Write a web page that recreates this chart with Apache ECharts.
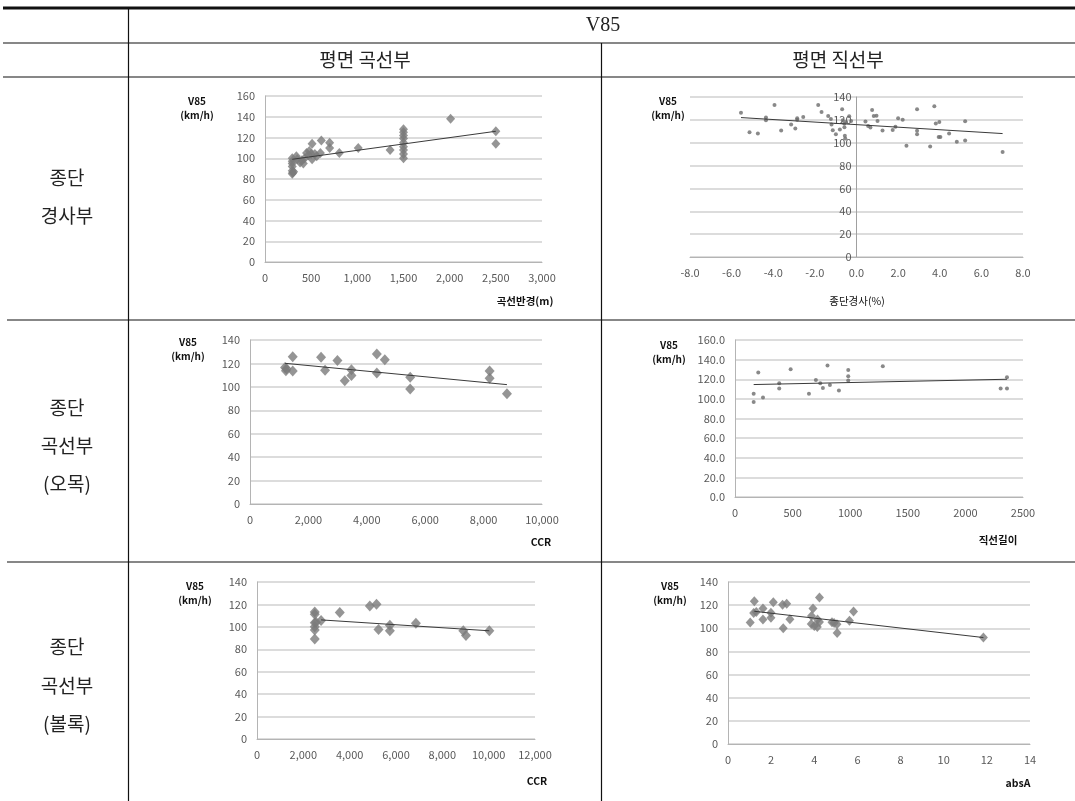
<!DOCTYPE html>
<html>
<head>
<meta charset="utf-8">
<script src="https://cdn.jsdelivr.net/npm/echarts@6/dist/echarts.min.js"></script>
<style>
html, body { margin: 0; padding: 0; background: #ffffff; }
#chart { width: 1075px; height: 801px; }
</style>
</head>
<body>
<div id="chart"></div>
<script>
// ---------- data ----------
// Horizontal curve sections on a grade: curve radius (m) vs V85
const radius    = [295, 295, 295, 295, 295, 295, 300, 310, 340, 350, 380, 400, 415, 430, 450, 470, 480, 500, 510, 510, 540, 560, 600, 610, 700, 700, 805, 1010, 1355, 1500, 1500, 1500, 1500, 1500, 1500, 1500, 1500, 1500, 2010, 2500, 2500];
const radiusV85 = [100, 97, 95, 92, 88, 85, 86, 87, 102, 99, 96, 98, 95, 100, 105, 103, 107, 104, 114, 99, 104, 102, 105, 117, 115, 110, 105, 110, 108, 128, 125, 122, 119, 115, 111, 108, 104, 100, 138, 126, 114];
const radiusTrendX = [295, 2500];
const radiusTrendY = [99, 126];

// Tangent sections on a grade: longitudinal grade (%) vs V85
const grade    = [-5.55, -5.14, -4.74, -4.35, -4.35, -3.94, -3.62, -3.14, -2.94, -2.85, -2.85, -2.56, -1.84, -1.68, -1.36, -1.23, -1.2, -1.14, -0.99, -0.8, -0.69, -0.66, -0.59, -0.58, -0.56, -0.54, -0.5, -0.35, -0.26, 0.43, 0.56, 0.67, 0.75, 0.83, 0.96, 1.01, 1.25, 1.74, 1.87, 2.0, 2.22, 2.4, 2.91, 2.91, 2.91, 3.74, 3.81, 3.54, 3.98, 3.95, 4.03, 4.45, 4.82, 5.22, 5.22, 7.02];
const gradeV85 = [126.3, 109.2, 108, 122, 119.7, 133, 110.7, 115.9, 112.4, 121.4, 120.2, 122.6, 133, 126.9, 123.4, 120.8, 115.9, 111, 107.5, 111.5, 129.2, 119.7, 116.8, 113.6, 106, 103.7, 118.2, 123.1, 119.1, 118.5, 114.7, 113.3, 128.7, 123.4, 123.7, 119.1, 110.7, 111.2, 113.9, 121.4, 120.2, 97.3, 129.2, 110.4, 107.5, 131.9, 116.8, 96.7, 118.2, 104.9, 104.9, 108, 100.8, 102, 118.8, 91.8];
const gradeTrendX = [-5.55, 7.02];
const gradeTrendY = [122, 108];

// Horizontal curve on a sag vertical curve: CCR vs V85
const sagCCR = [1200, 1230, 1250, 1463, 1463, 2434, 2571, 2994, 3246, 3474, 3474, 4343, 4343, 4617, 5486, 5486, 8206, 8206, 8800];
const sagV85 = [116.5, 113.8, 115.5, 125.8, 113.5, 125.2, 114.1, 122.4, 105.3, 114.7, 109.6, 128.1, 111.8, 123.2, 108.1, 98.2, 113.5, 107.3, 94.2];
const sagTrendX = [1200, 8800];
const sagTrendY = [120.1, 101.9];

// Tangent on a sag vertical curve: tangent length vs V85
const tangentLen = [162, 162, 202, 243, 384, 384, 483, 642, 702, 740, 763, 803, 824, 902, 983, 983, 983, 1283, 2306, 2361, 2361];
const tangentV85 = [105.1, 96.9, 126.8, 101.4, 115.9, 110.5, 130.2, 105.1, 119.3, 115.9, 111.2, 133.9, 114.2, 108.5, 129.5, 123.1, 118.6, 133.2, 110.5, 122, 110.5];
const tangentTrendX = [162, 2361];
const tangentTrendY = [114.6, 120];

// Horizontal curve on a crest vertical curve: CCR vs V85
const crestCCR = [2493, 2493, 2493, 2493, 2493, 2493, 2550, 2766, 3573, 4870, 5159, 5245, 5735, 5735, 6859, 8905, 9020, 10029];
const crestV85 = [113.3, 111.3, 103.6, 100, 97.1, 89.1, 104, 105.7, 112.8, 118.7, 120.2, 97.7, 101.5, 96.5, 103.3, 96.5, 92.3, 96.5];
const crestTrendX = [2766, 10029];
const crestTrendY = [106.2, 96.5];

// Tangent on a crest vertical curve: absA vs V85
const absA    = [1.03, 1.22, 1.19, 1.31, 1.62, 1.62, 1.99, 1.99, 2.1, 2.53, 2.56, 2.72, 2.87, 3.94, 3.87, 3.86, 4.0, 4.15, 4.14, 4.24, 4.24, 4.82, 4.92, 5.05, 5.06, 5.63, 5.82, 11.84];
const absAV85 = [104.9, 123.3, 113.3, 114.1, 117, 107.5, 113.5, 109.2, 122.4, 120.4, 100, 121.3, 107.8, 117, 110.7, 103.8, 102, 107.5, 101.2, 126.5, 105.5, 105.2, 104.6, 103.5, 96, 106.6, 114.4, 92];
const absATrendX = [1.22, 11.84];
const absATrendY = [114.7, 92];

// Table texts
const headerLabel = 'V85';
const columnLabels = ['평면 곡선부', '평면 직선부'];
const rowLabels = [['종단', '경사부'], ['종단', '곡선부', '(오목)'], ['종단', '곡선부', '(볼록)']];
const yTitleLines = ['V85', '(km/h)'];
const xTitles = ['곡선반경(m)', '종단경사(%)', 'CCR', '직선길이', 'CCR', 'absA'];

// ---------- helpers ----------
const zip = (xs, ys) => xs.map((x, i) => [x, ys[i]]);
const comma = v => Math.round(v).toLocaleString('en-US');
const oneDec = v => v.toFixed(1);
const plain = v => String(v);

const AX_FONT = '"Noto Sans CJK KR", "Noto Sans", sans-serif';
const KR_FONT = '"Noto Sans CJK KR", sans-serif';
const GRID_COLOR = '#d0d0d0';
const AXIS_COLOR = '#b4b4b4';
const MARK_COLOR = '#7a7a7a';

// panel layout: plotting area, axis ranges, marker style, title positions
const panels = [
  { grid: {left: 265, top: 96, width: 277, height: 166}, xr: [0, 3000, 500], yr: [0, 160, 20], xf: comma, yf: plain,
    pts: zip(radius, radiusV85), trend: zip(radiusTrendX, radiusTrendY), sym: 'diamond', size: [9, 10],
    yt: [197, 94], xt: [525, 301], xtBold: true },
  { grid: {left: 690, top: 97, width: 333, height: 160}, xr: [-8, 8, 2], yr: [0, 140, 20], xf: oneDec, yf: plain,
    pts: zip(grade, gradeV85), trend: zip(gradeTrendX, gradeTrendY), sym: 'circle', size: 4, small: true, centerAxis: true,
    yt: [668, 94], xt: [857, 301], xtBold: false },
  { grid: {left: 250, top: 340, width: 292, height: 164}, xr: [0, 10000, 2000], yr: [0, 140, 20], xf: comma, yf: plain,
    pts: zip(sagCCR, sagV85), trend: zip(sagTrendX, sagTrendY), sym: 'diamond', size: [10, 11],
    yt: [188, 335], xt: [541, 542], xtBold: true },
  { grid: {left: 735, top: 340, width: 288, height: 157}, xr: [0, 2500, 500], yr: [0, 160, 20], xf: plain, yf: oneDec,
    pts: zip(tangentLen, tangentV85), trend: zip(tangentTrendX, tangentTrendY), sym: 'circle', size: 4, small: true,
    yt: [669, 338], xt: [998, 540], xtBold: true },
  { grid: {left: 257, top: 582, width: 278, height: 157}, xr: [0, 12000, 2000], yr: [0, 140, 20], xf: comma, yf: plain,
    pts: zip(crestCCR, crestV85), trend: zip(crestTrendX, crestTrendY), sym: 'diamond', size: [10, 11],
    yt: [195, 579], xt: [537, 781], xtBold: true },
  { grid: {left: 728, top: 582, width: 302, height: 162}, xr: [0, 14, 2], yr: [0, 140, 20], xf: plain, yf: plain,
    pts: zip(absA, absAV85), trend: zip(absATrendX, absATrendY), sym: 'diamond', size: [9, 10],
    yt: [670, 579], xt: [1018, 783], xtBold: true }
];

const grid = [], xAxis = [], yAxis = [], series = [], graphic = [];

panels.forEach((p, i) => {
  grid.push(Object.assign({containLabel: false}, p.grid));
  xAxis.push({
    type: 'value', gridIndex: i, min: p.xr[0], max: p.xr[1], interval: p.xr[2],
    axisLine: {show: true, onZero: true, lineStyle: {color: AXIS_COLOR, width: 1}},
    axisTick: {show: false},
    splitLine: {show: false},
    axisLabel: {color: '#595959', fontSize: 11, fontFamily: AX_FONT, margin: 10, formatter: p.xf}
  });
  // a centred vertical axis sits where x = 0, shifted right from the grid's left edge
  const shift = p.centerAxis ? -p.grid.width * (0 - p.xr[0]) / (p.xr[1] - p.xr[0]) : 0;
  yAxis.push({
    type: 'value', gridIndex: i, min: p.yr[0], max: p.yr[1], interval: p.yr[2],
    offset: shift,
    axisLine: {show: true, onZero: false, lineStyle: {color: p.centerAxis ? '#a0a0a0' : AXIS_COLOR, width: 1}},
    axisTick: {show: false},
    splitLine: {show: true, lineStyle: {color: GRID_COLOR, width: 1.5}},
    axisLabel: {color: '#595959', fontSize: 11, fontFamily: AX_FONT, margin: p.centerAxis ? 5 : 10, formatter: p.yf}
  });
  series.push({
    type: 'scatter', xAxisIndex: i, yAxisIndex: i, data: p.pts,
    symbol: p.sym, symbolSize: p.size,
    itemStyle: {color: p.small ? '#6b6b6b' : MARK_COLOR},
    silent: true, z: 3
  });
  series.push({
    type: 'line', xAxisIndex: i, yAxisIndex: i, data: p.trend,
    symbol: 'none', lineStyle: {color: '#3a3a3a', width: 1}, silent: true, z: 4
  });
  graphic.push({
    type: 'text', x: p.yt[0], y: p.yt[1],
    style: {text: yTitleLines.join('\n'), align: 'center', verticalAlign: 'top',
      font: 'bold 10px ' + AX_FONT, lineHeight: 14, fill: '#111'}
  });
  graphic.push({
    type: 'text', x: p.xt[0], y: p.xt[1],
    style: {text: xTitles[i], align: 'center', verticalAlign: 'middle',
      font: (p.xtBold ? 'bold ' : '') + '10.5px ' + AX_FONT, fill: '#111'}
  });
});

// table rules
const line = (x1, y1, x2, y2, w) => ({
  type: 'line', shape: {x1, y1, x2, y2}, style: {stroke: '#111', lineWidth: w}, silent: true, z: 10
});
graphic.push(line(3, 8, 1075, 8, 3));
graphic.push(line(3, 43, 1075, 43, 1.2));
graphic.push(line(3, 77, 1075, 77, 1.2));
graphic.push(line(7, 320, 1075, 320, 1.2));
graphic.push(line(7, 562, 1075, 562, 1.2));
graphic.push(line(128.5, 8, 128.5, 801, 1.2));
graphic.push(line(601.5, 43, 601.5, 801, 1.2));

// table texts
graphic.push({type: 'text', x: 603, y: 26,
  style: {text: headerLabel, align: 'center', verticalAlign: 'middle', font: '20px "Liberation Serif", serif', fill: '#222'}});
graphic.push({type: 'text', x: 365, y: 60,
  style: {text: columnLabels[0], align: 'center', verticalAlign: 'middle', font: '19px ' + KR_FONT, fill: '#222'}});
graphic.push({type: 'text', x: 838, y: 60,
  style: {text: columnLabels[1], align: 'center', verticalAlign: 'middle', font: '19px ' + KR_FONT, fill: '#222'}});

const rowTextY = [[178, 216], [408, 446, 484], [647, 686, 724]];
rowLabels.forEach((lines, r) => {
  lines.forEach((t, k) => {
    graphic.push({type: 'text', x: 67, y: rowTextY[r][k],
      style: {text: t, align: 'center', verticalAlign: 'middle', font: '19px ' + KR_FONT, fill: '#222'}});
  });
});

const chart = echarts.init(document.getElementById('chart'), null, {renderer: 'canvas'});
chart.setOption({
  backgroundColor: '#ffffff',
  animation: false,
  grid, xAxis, yAxis, series, graphic
});
</script>
</body>
</html>
